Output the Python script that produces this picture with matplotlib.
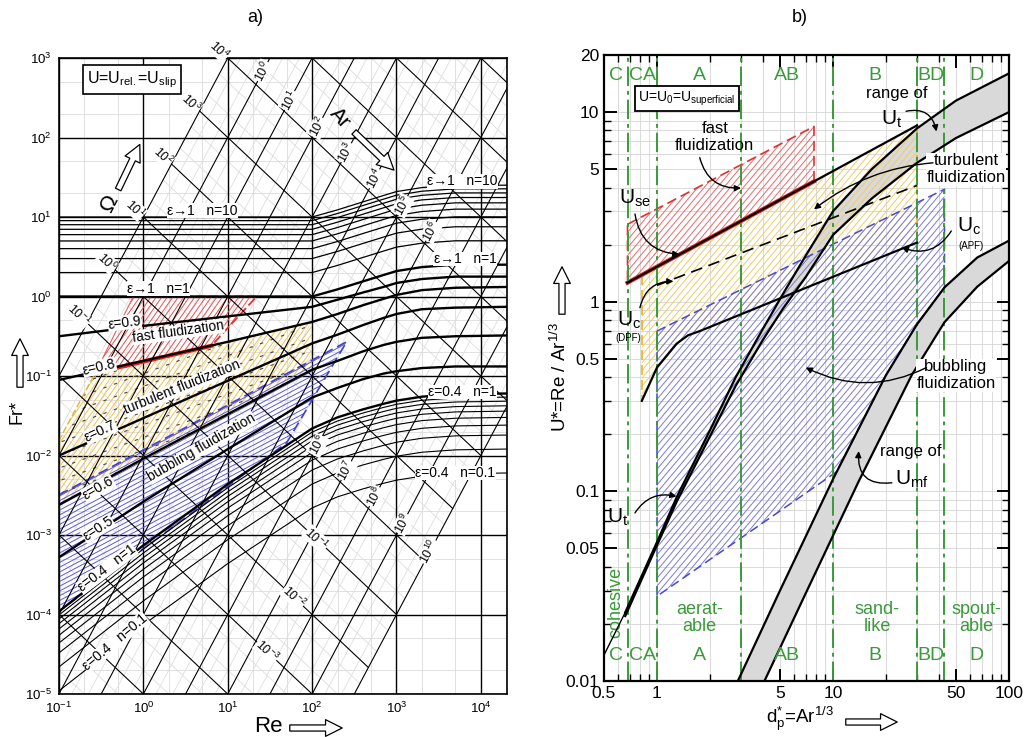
import numpy as np
import matplotlib
matplotlib.use("Agg")
import matplotlib.pyplot as plt
from matplotlib.patches import Polygon, FancyArrowPatch
from matplotlib.collections import LineCollection
from matplotlib import ticker

plt.rcParams["font.family"] = ["Liberation Sans", "DejaVu Sans"]
plt.rcParams["mathtext.fontset"] = "custom"
plt.rcParams["mathtext.rm"] = "Liberation Sans"
plt.rcParams["mathtext.it"] = "Liberation Sans:italic"
plt.rcParams["mathtext.bf"] = "Liberation Sans:bold"

# ---------------- a) Fr* vs Re ----------------
RE_PTS = [0.1, 1, 10, 100, 200, 400, 700, 1000, 2000, 5000, 20000]
# log10(Fr*) of the n=1 curves, read at RE_PTS
LOGFR_E10 = [0.00, 0.00, 0.00, 0.00, 0.09, 0.19, 0.27, 0.32, 0.37, 0.40, 0.40]
LOGFR_E09 = [-0.50, -0.37, -0.25, -0.13, -0.04, 0.05, 0.12, 0.17, 0.22, 0.25, 0.25]
LOGFR_E08 = [-1.05, -0.81, -0.57, -0.32, -0.22, -0.11, -0.03, 0.02, 0.08, 0.11, 0.12]
LOGFR_E07 = [-2.00, -1.53, -1.06, -0.59, -0.48, -0.36, -0.27, -0.22, -0.16, -0.14, -0.13]
LOGFR_E06 = [-2.62, -2.04, -1.48, -0.92, -0.81, -0.69, -0.61, -0.57, -0.52, -0.50, -0.49]
LOGFR_E05 = [-3.28, -2.58, -1.92, -1.27, -1.15, -1.04, -0.97, -0.94, -0.90, -0.88, -0.88]
LOGFR_E04 = [-3.96, -3.13, -2.36, -1.66, -1.52, -1.42, -1.35, -1.31, -1.26, -1.23, -1.22]
N_E10 = [2, 3, 4, 5, 6, 7, 8, 9, 10]
N_E04 = [0.1, 0.2, 0.3, 0.4, 0.5, 0.6, 0.7, 0.8, 0.9]

AR_LINES = [1e-1, 1e0, 1e1, 1e2, 1e3, 1e4, 1e5, 1e6, 1e7, 1e8, 1e9, 1e10]
OMEGA_LINES = [1e-5, 1e-4, 1e-3, 1e-2, 1e-1, 1e0, 1e1, 1e2, 1e3, 1e4, 1e5, 1e6, 1e7]
AR_MIN, AR_MAX = 0.1, 1e10

FAST_A_RE = [0.76, 22, 6.4, 0.27]
FAST_A_FR = [1.0, 1.0, 0.24, 0.11]
TURB_A_RE = [0.27, 100, 100, 0.1, 0.1]
TURB_A_FR = [0.11, 0.48, 0.12, 0.0024, 0.0155]
BUBB_A_RE = [0.1, 257, 50, 0.1]
BUBB_A_FR = [0.0032, 0.27, 0.0145, 1.1e-4]

OMEGA_LABELS_LEFT = [1e-1, 1e0, 1e1, 1e2, 1e3, 1e4]
OMEGA_LABELS_LOW = [1e-1, 1e-2, 1e-3]
AR_LABELS_UP = [1e0, 1e1, 1e2, 1e3, 1e4, 1e5, 1e6]
AR_LABELS_LOW = [1e6, 1e7, 1e8, 1e9, 1e10]

# ---------------- b) U* vs dp* ----------------
GROUP_BOUNDS = [0.68, 1.0, 3.0, 10.0, 30.0, 43.0]
GROUP_NAMES = ["C", "CA", "A", "AB", "B", "BD", "D"]

UT_DP = [0.66, 1.0, 1.3, 2.0, 2.8, 4.0, 5.2, 7.0, 10, 16.6, 30, 50, 100]
UT_HI = [0.023, 0.054, 0.094, 0.21, 0.40, 0.72, 1.10, 1.75, 3.0, 5.0, 8.2, 11.5, 16.0]
UT_LO = [0.022, 0.052, 0.089, 0.195, 0.36, 0.63, 0.92, 1.35, 2.25, 3.5, 5.4, 7.3, 10.0]
UT_TAIL_DP = [0.5, 0.66]
UT_TAIL = [0.0137, 0.023]

UMF_HI_DP = [2.88, 5, 10, 20, 30, 43, 66, 100]
UMF_HI = [0.010, 0.030, 0.116, 0.41, 0.76, 1.19, 1.71, 2.1]
UMF_LO_DP = [4.08, 7, 14, 28, 43, 66, 100]
UMF_LO = [0.010, 0.029, 0.113, 0.41, 0.78, 1.2, 1.64]

USE_DP = [0.68, 30]
USE_U = [1.26, 8.5]
UC_APF_DP = [0.82, 1.0, 1.29, 1.5, 1.75, 30]
UC_APF = [0.30, 0.45, 0.60, 0.665, 0.70, 2.05]
UC_DPF_DP = [1.0, 30]
UC_DPF = [1.22, 4.1]

FAST_B_DP = [0.68, 7.8, 7.8, 0.68]
FAST_B_U = [2.56, 8.4, 4.31, 1.26]
TURB_B_TOP_DP = [0.82, 30]
TURB_B_TOP_U = [1.385, 8.5]
BUBB_B_DP = [1.0, 43, 43, 30, 20, 10.5, 1.0]
BUBB_B_U = [0.70, 3.92, 1.19, 0.76, 0.41, 0.127, 0.028]

W_PX, H_PX = 1029, 737
fig = plt.figure(figsize=(W_PX / 100, H_PX / 100), dpi=100)


def fpx(x, y):
    return (x / W_PX, 1 - y / H_PX)


def hatch(ax, xs, ys, color, angle, step, lw=0.7, dashes=None, z=1.2):
    poly = Polygon(np.column_stack([xs, ys]), closed=True, fc="none", ec="none",
                   transform=ax.transData)
    ax.add_patch(poly)
    pos = ax.get_position()
    w, h = pos.width * W_PX, pos.height * H_PX
    a = np.radians(angle)
    d = np.array([np.cos(a), np.sin(a)])
    nv = np.array([-np.sin(a), np.cos(a)])
    half = np.hypot(w, h)
    ctr = np.array([w / 2, h / 2])
    segs = []
    for c in np.arange(-half, half, step):
        p0 = ctr + c * nv - half * d
        p1 = ctr + c * nv + half * d
        segs.append([(p0[0] / w, p0[1] / h), (p1[0] / w, p1[1] / h)])
    lc = LineCollection(segs, colors=color, linewidths=lw, transform=ax.transAxes, zorder=z)
    if dashes:
        lc.set_linestyle((0, dashes))
    ax.add_collection(lc, autolim=False)
    lc.set_clip_path(poly)


def hollow_arrow(p0, p1):
    ar = FancyArrowPatch(fpx(*p0), fpx(*p1), transform=fig.transFigure,
                         arrowstyle="simple,head_width=0.6,head_length=0.6,tail_width=0.22",
                         mutation_scale=20, fc="white", ec="black", lw=0.9)
    fig.add_artist(ar)


# ================= panel a =================
axa = fig.add_axes([59 / W_PX, 1 - 694 / H_PX, 448 / W_PX, 636 / H_PX])
axa.set_xscale("log")
axa.set_yscale("log")
axa.set_xlim(0.1, 2.04e4)
axa.set_ylim(1e-5, 1e3)
re_lo, re_hi = axa.get_xlim()

for k in range(-1, 5):
    for m in (2, 5):
        axa.axvline(m * 10.0 ** k, color="#dcdcdc", lw=0.6, zorder=0.2)
    axa.axvline(10.0 ** k, color="black", lw=1.0, zorder=0.6)
for k in range(-5, 3):
    for m in (2, 5):
        axa.axhline(m * 10.0 ** k, color="#dcdcdc", lw=0.6, zorder=0.2)
for k in range(-5, 4):
    axa.axhline(10.0 ** k, color="black", lw=1.0, zorder=0.6)

# faint intermediate iso-lines (only inside 0.1 <= Ar <= 1e10)
for k in range(-1, 10):
    for m in (2, 5):
        v = m * 10.0 ** k
        axa.plot([re_lo, re_hi], [re_lo ** 2 / v, re_hi ** 2 / v], color="#dedede", lw=0.6, zorder=0.3)
for k in range(-7, 9):
    for m in (2, 5):
        v = m * 10.0 ** k
        ra = max(re_lo, (AR_MIN * v) ** (1 / 3))
        rb = min(re_hi, (AR_MAX * v) ** (1 / 3))
        if ra < rb:
            axa.plot([ra, rb], [v / ra, v / rb], color="#dedede", lw=0.6, zorder=0.3)

# region hatches
hatch(axa, FAST_A_RE, FAST_A_FR, "#e8504f", 55, 4.5)
hatch(axa, TURB_A_RE, TURB_A_FR, "#f0c34e", 55, 4.5)
hatch(axa, TURB_A_RE, TURB_A_FR, "#444444", 20, 12, lw=0.8, dashes=(3, 7), z=1.3)
hatch(axa, BUBB_A_RE, BUBB_A_FR, "#5a5ad8", 28, 4.2)
axa.plot(FAST_A_RE[:2] + FAST_A_RE[2:3], FAST_A_FR[:2] + FAST_A_FR[2:3], color="#e83030",
         lw=1.3, ls=(0, (5, 2)), zorder=1.6)
axa.plot([FAST_A_RE[0], FAST_A_RE[3]], [FAST_A_FR[0], FAST_A_FR[3]], color="#e86060", lw=0.8, zorder=1.6)
axa.plot([FAST_A_RE[3], FAST_A_RE[2]], [FAST_A_FR[3], FAST_A_FR[2]], color="#e82020", lw=3.0, zorder=1.7)
axa.plot(TURB_A_RE[2:] + TURB_A_RE[:1], TURB_A_FR[2:] + TURB_A_FR[:1], color="#e8b030",
         lw=1.0, ls=(0, (5, 2)), zorder=1.6)
axa.plot(BUBB_A_RE + BUBB_A_RE[:1], BUBB_A_FR + BUBB_A_FR[:1], color="#4040d0",
         lw=1.2, ls=(0, (6, 3)), zorder=1.6)

# Ar and Omega lines
for ar in AR_LINES:
    axa.plot([re_lo, re_hi], [re_lo ** 2 / ar, re_hi ** 2 / ar], color="black", lw=0.8, zorder=2)
for om in OMEGA_LINES:
    ra = max(re_lo, (AR_MIN * om) ** (1 / 3))
    rb = min(re_hi, (AR_MAX * om) ** (1 / 3))
    if ra < rb:
        axa.plot([ra, rb], [om / ra, om / rb], color="black", lw=0.8, zorder=2)

# epsilon / n curves
for n in N_E10:
    axa.plot(RE_PTS, n * 10 ** np.array(LOGFR_E10), color="black", lw=0.9, zorder=3)
for n in N_E04:
    axa.plot(RE_PTS, n * 10 ** np.array(LOGFR_E04), color="black", lw=0.8, zorder=3)
for curve in (LOGFR_E10, LOGFR_E09, LOGFR_E08, LOGFR_E07, LOGFR_E06, LOGFR_E05, LOGFR_E04):
    axa.plot(RE_PTS, 10 ** np.array(curve), color="black", lw=1.7, zorder=3.2)

# labels on iso-lines
lab = dict(ha="center", va="center", fontsize=9, zorder=5,
           bbox=dict(fc="white", ec="none", pad=0.3))
for om in OMEGA_LABELS_LEFT:
    r = (0.05 * om) ** (1 / 3)
    axa.text(r, om / r, r"$10^{%d}$" % round(np.log10(om)), rotation=-43, **lab)
for om, r in zip(OMEGA_LABELS_LOW, [112, 60, 29]):
    axa.text(r, om / r, r"$10^{%d}$" % round(np.log10(om)), rotation=-43, **lab)
for ar, r in zip(AR_LABELS_UP, [26, 54, 116, 254, 550, 1180, 2570]):
    axa.text(r, r ** 2 / ar, r"$10^{%d}$" % round(np.log10(ar)), rotation=62, **lab)
for ar, r in zip(AR_LABELS_LOW, [116, 254, 550, 1180, 2470]):
    axa.text(r, r ** 2 / ar, r"$10^{%d}$" % round(np.log10(ar)), rotation=62, **lab)

tx = dict(ha="center", va="center", fontsize=10, zorder=6,
          bbox=dict(fc="white", ec="none", pad=0.2))
axa.text(5, 12, "ε→1   n=10", **tx)
axa.text(1.5, 1.26, "ε→1   n=1", **tx)
axa.text(6000, 28, "ε→1   n=10", **tx)
axa.text(6500, 2.96, "ε→1   n=1", **tx)
axa.text(6000, 0.063, "ε=0.4   n=1", **tx)
axa.text(5000, 6e-3, "ε=0.4   n=0.1", **tx)
axa.text(0.6, 0.47, "ε=0.9", rotation=7, **tx)
axa.text(0.3, 0.13, "ε=0.8", rotation=13, **tx)
axa.text(0.31, 0.02, "ε=0.7", rotation=25, **tx)
axa.text(0.29, 3.9e-3, "ε=0.6", rotation=30, **tx)
axa.text(0.29, 1.2e-3, "ε=0.5", rotation=33, **tx)
axa.text(0.37, 3.8e-4, "ε=0.4   n=1", rotation=37, **tx)
axa.text(0.46, 4.5e-5, "ε=0.4   n=0.1", rotation=40, **tx)
axa.text(2.6, 0.36, "fast fluidization", rotation=8, **tx)
axa.text(2.9, 0.072, "turbulent fluidization", rotation=22, **tx)
axa.text(4.9, 0.0125, "bubbling fluidization", rotation=30, **tx)
axa.text(0.73, 530, r"U=U$_\mathrm{rel.}$=U$_\mathrm{slip}$", ha="center", va="center",
         fontsize=11.5, zorder=6, bbox=dict(fc="white", ec="black", lw=1.2, pad=3))

axa.xaxis.set_major_locator(ticker.FixedLocator([1e-1, 1e0, 1e1, 1e2, 1e3, 1e4]))
axa.yaxis.set_major_locator(ticker.FixedLocator([1e-5, 1e-4, 1e-3, 1e-2, 1e-1, 1e0, 1e1, 1e2, 1e3]))
axa.xaxis.set_minor_locator(ticker.NullLocator())
axa.yaxis.set_minor_locator(ticker.NullLocator())
axa.xaxis.set_major_formatter(ticker.LogFormatterMathtext())
axa.yaxis.set_major_formatter(ticker.LogFormatterMathtext())
axa.tick_params(length=0, labelsize=9.5, pad=5)
for s in axa.spines.values():
    s.set_linewidth(1.2)

fig.text(*fpx(110, 203), "Ω", rotation=63, fontsize=16, ha="center", va="center")
hollow_arrow((117, 192), (141, 142))
fig.text(*fpx(340, 118), "Ar", rotation=-48, fontsize=15, ha="center", va="center")
hollow_arrow((352, 130), (396, 172))
fig.text(*fpx(17, 412), "Fr*", rotation=90, fontsize=13, ha="center", va="center")
hollow_arrow((20, 390), (20, 336))
fig.text(*fpx(268, 727), "Re", fontsize=16, ha="center", va="center")
hollow_arrow((287, 728), (345, 728))
fig.text(*fpx(255, 18), "a)", fontsize=13, ha="center", va="center")

# ================= panel b =================
axb = fig.add_axes([604 / W_PX, 1 - 681 / H_PX, 405 / W_PX, 626 / H_PX])
axb.set_xscale("log")
axb.set_yscale("log")
axb.set_xlim(0.5, 100)
axb.set_ylim(0.01, 20)

# grey bands
axb.add_patch(Polygon(np.column_stack([UT_DP + UT_DP[::-1], UT_HI + UT_LO[::-1]]),
                      closed=True, fc="#d9d9d9", ec="none", zorder=1))
axb.add_patch(Polygon(np.column_stack([UMF_HI_DP + UMF_LO_DP[::-1], UMF_HI + UMF_LO[::-1]]),
                      closed=True, fc="#d9d9d9", ec="none", zorder=1))

# hatched regions
turb_dp = TURB_B_TOP_DP + UC_APF_DP[::-1]
turb_u = TURB_B_TOP_U + UC_APF[::-1]
hatch(axb, FAST_B_DP, FAST_B_U, "#e86a6a", 50, 5.0)
hatch(axb, turb_dp, turb_u, "#f0cc66", 50, 5.0)
hatch(axb, BUBB_B_DP, BUBB_B_U, "#7a7ad8", 50, 5.0)
axb.plot(FAST_B_DP + FAST_B_DP[:1], FAST_B_U + FAST_B_U[:1], color="#e03030", lw=1.2,
         ls=(0, (6, 3)), zorder=1.6)
axb.plot(FAST_B_DP[2:], FAST_B_U[2:], color="#e02020", lw=3.0, zorder=1.7)
axb.plot([TURB_B_TOP_DP[0], UC_APF_DP[0]], [TURB_B_TOP_U[0], UC_APF[0]], color="#f0b020",
         lw=1.2, ls=(0, (6, 3)), zorder=1.6)
axb.plot([TURB_B_TOP_DP[1], UC_APF_DP[-1]], [TURB_B_TOP_U[1], UC_APF[-1]], color="#f0b020",
         lw=1.2, ls=(0, (6, 3)), zorder=1.6)
axb.plot(BUBB_B_DP + BUBB_B_DP[:1], BUBB_B_U + BUBB_B_U[:1], color="#4848d0", lw=1.1,
         ls=(0, (6, 3)), zorder=1.6)

# group boundaries
green = "#3a9a3a"
for b in GROUP_BOUNDS:
    axb.axvline(b, color=green, lw=1.4, ls=(0, (10, 2.5, 2, 2.5)), zorder=2.5)
edges = [0.5] + GROUP_BOUNDS + [100]
for name, lo, hi in zip(GROUP_NAMES, edges[:-1], edges[1:]):
    xc = np.sqrt(lo * hi)
    axb.text(xc, 15.5, name, color=green, fontsize=14, ha="center", va="center", zorder=6)
    axb.text(xc, 0.0136, name, color=green, fontsize=14, ha="center", va="center", zorder=6)
axb.text(0.585, 0.026, "cohesive", color=green, fontsize=13, rotation=90, ha="center", va="center")
axb.text(1.75, 0.0215, "aerat-\nable", color=green, fontsize=13, ha="center", va="center",
         linespacing=1.0)
axb.text(17.8, 0.0215, "sand-\nlike", color=green, fontsize=13, ha="center", va="center",
         linespacing=1.0)
axb.text(65, 0.0215, "spout-\nable", color=green, fontsize=13, ha="center", va="center",
         linespacing=1.0)

# curves
axb.plot(UT_DP, UT_HI, color="black", lw=1.6, zorder=3)
axb.plot(UT_DP, UT_LO, color="black", lw=1.6, zorder=3)
axb.plot(UT_TAIL_DP, UT_TAIL, color="black", lw=1.0, zorder=3)
axb.plot(UMF_HI_DP, UMF_HI, color="black", lw=1.6, zorder=3)
axb.plot(UMF_LO_DP, UMF_LO, color="black", lw=1.6, zorder=3)
axb.plot(USE_DP, USE_U, color="black", lw=1.6, zorder=3)
axb.plot(UC_APF_DP, UC_APF, color="black", lw=1.6, zorder=3)
axb.plot(UC_DPF_DP, UC_DPF, color="black", lw=1.2, ls=(0, (7, 4)), zorder=3)

# annotations
tb = dict(ha="center", va="center", zorder=6)
axb.text(1.48, 11.8, r"U=U$_0$=U$_\mathrm{superficial}$", fontsize=10,
         bbox=dict(fc="white", ec="black", lw=1.3, pad=2.5), **tb)
axb.text(2.13, 7.4, "fast\nfluidization", fontsize=12, linespacing=1.15, **tb)
axb.text(0.75, 3.5, r"U$_\mathrm{se}$", fontsize=15, **tb)
axb.text(23, 12.6, "range of", fontsize=12, **tb)
axb.text(21.6, 9.2, r"U$_\mathrm{t}$", fontsize=15, **tb)
axb.text(57, 5.0, "turbulent\nfluidization", fontsize=12, linespacing=1.15,
         bbox=dict(fc="white", ec="none", pad=0.5), **tb)
axb.text(59, 2.5, r"U$_\mathrm{c}$", fontsize=15, **tb)
axb.text(61, 1.97, "(APF)", fontsize=7, **tb)
axb.text(0.69, 0.80, r"U$_\mathrm{c}$", fontsize=15, **tb)
axb.text(0.69, 0.64, "(DPF)", fontsize=7, **tb)
axb.text(50, 0.41, "bubbling\nfluidization", fontsize=12, linespacing=1.15,
         bbox=dict(fc="white", ec="none", pad=0.5), **tb)
axb.text(27.6, 0.163, "range of", fontsize=12, **tb)
axb.text(28, 0.116, r"U$_\mathrm{mf}$", fontsize=15, **tb)
axb.text(0.60, 0.073, r"U$_\mathrm{t}$", fontsize=15, **tb)


def leader(p0, p1, rad):
    axb.annotate("", xy=p1, xytext=p0, zorder=6,
                 arrowprops=dict(arrowstyle="-|>", connectionstyle="arc3,rad=%.2f" % rad,
                                 lw=1.0, color="black", mutation_scale=9, shrinkA=0, shrinkB=0))


leader((1.75, 5.75), (3.0, 3.98), 0.4)
leader((0.75, 2.9), (1.34, 1.78), 0.4)
leader((26, 10.1), (38.7, 7.9), -0.5)
leader((37, 5.4), (7.8, 3.07), 0.15)
leader((47, 2.36), (24.6, 1.93), -0.4)
leader((0.80, 0.93), (1.24, 1.28), -0.4)
leader((34, 0.45), (7.0, 0.45), -0.25)
leader((21.6, 0.111), (14, 0.163), -0.6)
leader((0.75, 0.077), (1.29, 0.094), -0.35)

xt = [0.5, 1, 5, 10, 50, 100]
yt = [0.01, 0.05, 0.1, 0.5, 1, 5, 10, 20]
axb.xaxis.set_major_locator(ticker.FixedLocator(xt))
axb.yaxis.set_major_locator(ticker.FixedLocator(yt))
axb.xaxis.set_major_formatter(ticker.FuncFormatter(lambda v, p: "%g" % v))
axb.yaxis.set_major_formatter(ticker.FuncFormatter(lambda v, p: "%g" % v))
axb.xaxis.set_minor_locator(ticker.LogLocator(base=10, subs=np.arange(1, 10), numticks=20))
axb.yaxis.set_minor_locator(ticker.LogLocator(base=10, subs=np.arange(1, 10), numticks=20))
axb.xaxis.set_minor_formatter(ticker.NullFormatter())
axb.yaxis.set_minor_formatter(ticker.NullFormatter())
axb.grid(which="both", color="#d4d4d4", lw=0.6, zorder=0)
axb.set_axisbelow(True)
axb.tick_params(which="major", direction="in", length=9, width=1.4, top=True, right=True,
                labelsize=12.5)
axb.tick_params(which="minor", direction="in", length=5, width=1.0, top=True, right=True)
for s in axb.spines.values():
    s.set_linewidth(1.6)

fig.text(*fpx(560, 377), r"U*=Re / Ar$^{1/3}$", rotation=90, fontsize=13.5, ha="center", va="center")
hollow_arrow((562, 317), (562, 264))
fig.text(*fpx(800, 719), r"d$_\mathrm{p}^{*}$=Ar$^{1/3}$", fontsize=13.5, ha="center", va="center")
hollow_arrow((843, 722), (900, 722))
fig.text(*fpx(800, 18), "b)", fontsize=13, ha="center", va="center")

fig.savefig("out.png", dpi=100)
